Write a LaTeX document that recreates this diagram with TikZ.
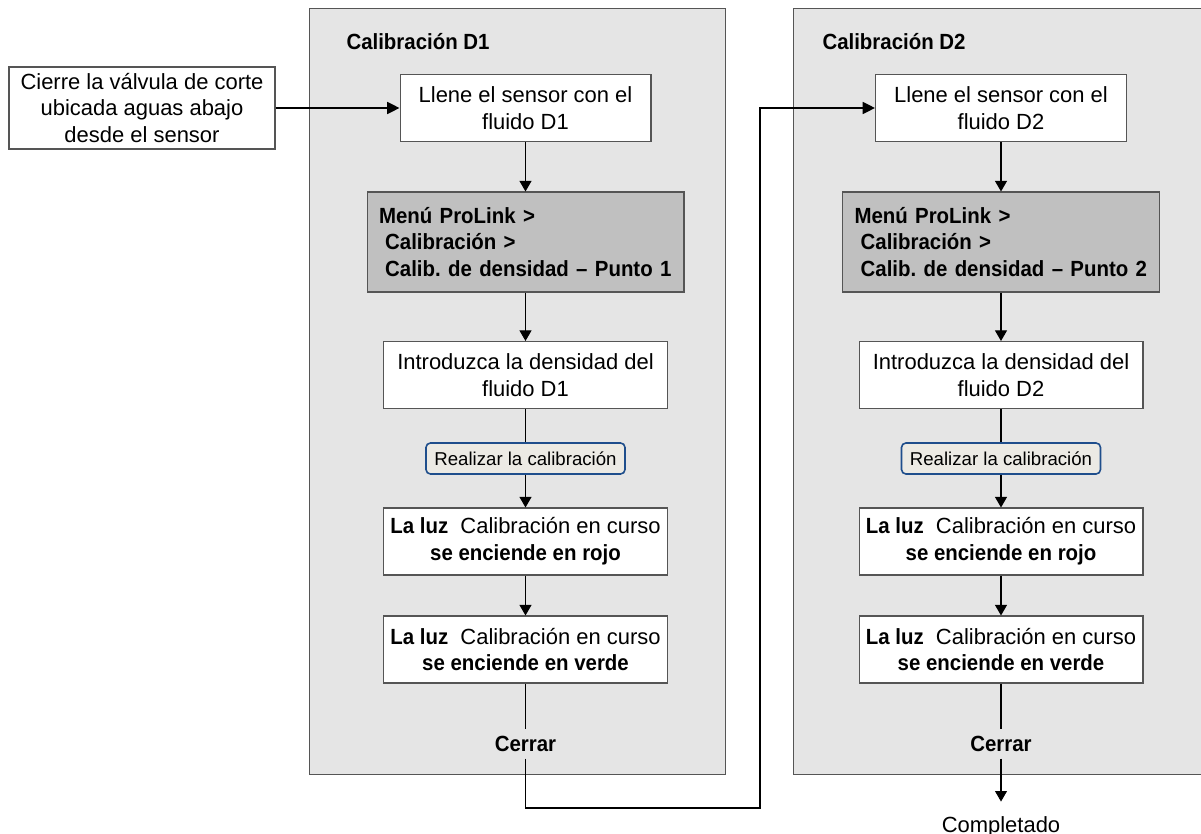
\documentclass[tikz,border=0pt]{standalone}
\usepackage{fontspec}
\setmainfont{Liberation Sans}[BoldFeatures={FakeStretch=0.93}]
\usetikzlibrary{arrows.meta}
\frenchspacing

\definecolor{fondo}{RGB}{229,229,229}
\definecolor{menu_gris}{RGB}{192,192,192}
\definecolor{borde}{RGB}{85,85,85}
\definecolor{boton_azul}{RGB}{31,78,140}
\definecolor{boton_fondo}{RGB}{236,234,228}

\newcommand{\letra}{\fontsize{12.5}{15.2}\selectfont}

\begin{document}
\begin{tikzpicture}[x=0.02cm, y=-0.02cm, line width=0.6pt]
        \tikzset{
            panel/.style={
                draw=borde,
                fill=fondo,
                inner sep=0pt,
                minimum width=#1,
                minimum height=15.34cm
            },
            caja/.style={
                draw=borde,
                fill=white,
                align=center,
                inner sep=0pt,
                minimum width=#1,
                minimum height=1.34cm,
                font=\letra
            },
            menu/.style={
                draw=borde,
                fill=menu_gris,
                align=left,
                inner xsep=0.24cm,
                inner ysep=0pt,
                text width=5.86cm,
                minimum height=2cm,
                font=\letra\bfseries
            },
            boton/.style={
                draw=boton_azul,
                fill=boton_fondo,
                line width=0.9pt,
                rounded corners=2.5pt,
                inner sep=0pt,
                minimum width=3.98cm,
                minimum height=0.62cm,
                font=\fontsize{10.6}{12}\selectfont
            },
            titulo/.style={anchor=west, inner sep=0pt, font=\letra\bfseries},
            cerrar/.style={inner sep=0pt, minimum height=0.56cm, font=\letra\bfseries},
            flecha/.style={-{Triangle[width=6.8pt,length=6pt]}},
            enlace/.style={line width=1.1pt, -{Triangle[width=6.8pt,length=7pt]}}
        }
        \useasboundingbox (0,0) rectangle (1201,834);

        %entrada
        \node[caja=5.32cm, minimum height=1.64cm] (cierre) at (142,108) {Cierre la válvula de corte\\ubicada aguas abajo\\desde el sensor};

        %panel D1
        \node[panel=8.34cm] (panel1) at (517.5,391.5) {};
        \node[titulo] (titulo1) at (346,42) {Calibración D1};
        \node[caja=5.02cm] (llene1) at (525.5,108) {Llene el sensor con el\\fluido D1};
        \node[menu] (menu1) at (525.5,242) {Menú ProLink >\\\hspace*{0.28em}Calibración >\\\hspace*{0.28em}Calib. de densidad – Punto 1};
        \node[caja=5.68cm] (intro1) at (525.5,375) {Introduzca la densidad del\\fluido D1};
        \node[boton] (boton1) at (525.5,458.5) {Realizar la calibración};
        \node[caja=5.68cm] (rojo1) at (525.5,541.5) {\textbf{La luz}\ \ Calibración en curso\\\textbf{se enciende en rojo}};
        \node[caja=5.68cm] (verde1) at (525.5,649.5) {\textbf{La luz}\ \ Calibración en curso\\\textbf{se enciende en verde}};
        \node[cerrar] (cerrar1) at (525.5,744) {Cerrar};

        %panel D2
        \node[panel=8.2cm] (panel2) at (998,391.5) {};
        \node[titulo] (titulo2) at (822,42) {Calibración D2};
        \node[caja=5.02cm] (llene2) at (1001,108) {Llene el sensor con el\\fluido D2};
        \node[menu] (menu2) at (1001,242) {Menú ProLink >\\\hspace*{0.28em}Calibración >\\\hspace*{0.28em}Calib. de densidad – Punto 2};
        \node[caja=5.68cm] (intro2) at (1001,375) {Introduzca la densidad del\\fluido D2};
        \node[boton] (boton2) at (1001,458.5) {Realizar la calibración};
        \node[caja=5.68cm] (rojo2) at (1001,541.5) {\textbf{La luz}\ \ Calibración en curso\\\textbf{se enciende en rojo}};
        \node[caja=5.68cm] (verde2) at (1001,649.5) {\textbf{La luz}\ \ Calibración en curso\\\textbf{se enciende en verde}};
        \node[cerrar] (cerrar2) at (1001,744) {Cerrar};
        \node[anchor=base, inner xsep=0pt, inner ysep=0.28cm, font=\letra] (completado) at (1001,832) {Completado};

        %flechas D1
        \draw[enlace] (cierre) -- (llene1);
        \draw[flecha] (llene1) -- (menu1);
        \draw[flecha] (menu1) -- (intro1);
        \draw (intro1) -- (boton1);
        \draw[flecha] (boton1) -- (rojo1);
        \draw[flecha] (rojo1) -- (verde1);
        \draw (verde1) -- (cerrar1);

        %enlace D1 a D2
        \coordinate (codo) at (760,808);
        \draw[enlace] (cerrar1) |- (codo) |- (llene2);

        %flechas D2
        \draw[flecha] (llene2) -- (menu2);
        \draw[flecha] (menu2) -- (intro2);
        \draw (intro2) -- (boton2);
        \draw[flecha] (boton2) -- (rojo2);
        \draw[flecha] (rojo2) -- (verde2);
        \draw (verde2) -- (cerrar2);
        \draw[flecha] (cerrar2) -- (completado);

    \end{tikzpicture}
\end{document}
